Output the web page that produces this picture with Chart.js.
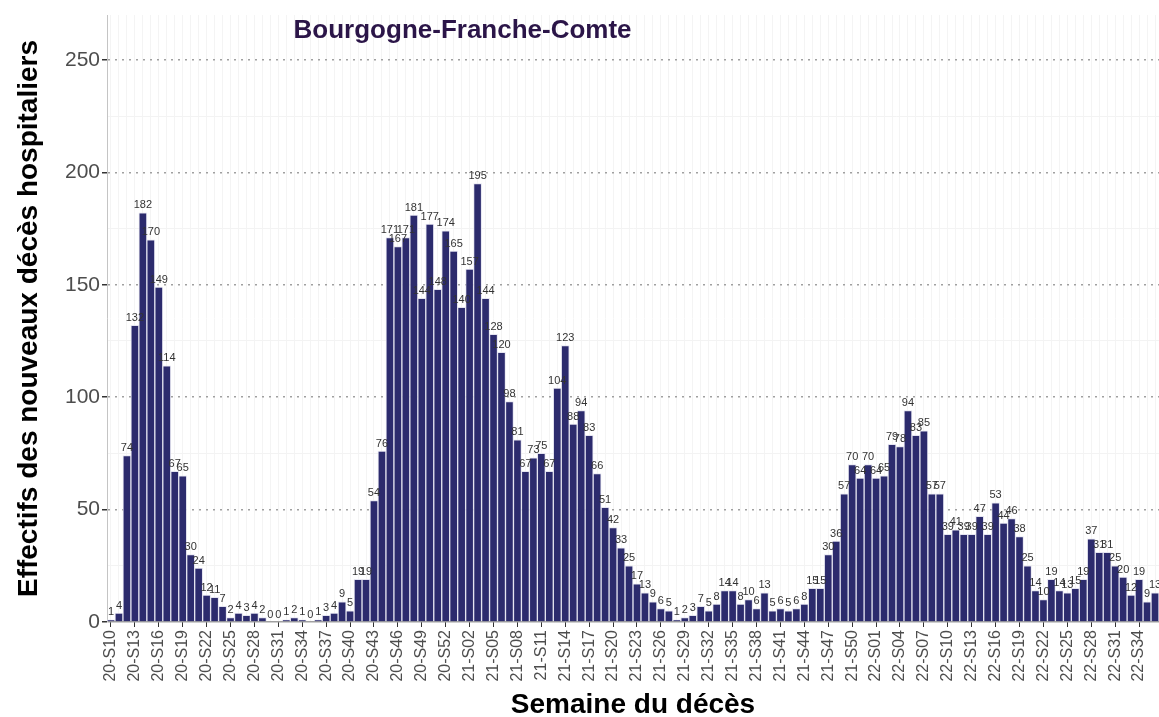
<!DOCTYPE html>
<html>
<head>
    <meta charset="UTF-8" />
    <title>Bourgogne-Franche-Comte</title>
    <script src="https://cdn.jsdelivr.net/npm/chart.js@4"></script>
    <style>
        html, body { margin: 0; padding: 0; background: #fff; }
        #wrap { width: 1159px; height: 717px; position: relative; }
    </style>
</head>
<body>
    <div id="wrap"><canvas id="chart"></canvas></div>

    <script>
        // weekly new hospital deaths, by ISO week
        const deaths2020 = [1, 4, 74, 132, 182, 170, 149, 114, 67, 65, 30, 24, 12, 11, 7, 2, 4, 3, 4, 2,
            0, 0, 1, 2, 1, 0, 1, 3, 4, 9, 5, 19, 19, 54, 76, 171, 167, 171, 181, 144, 177, 148, 174, 165];
        const deaths2021 = [140, 157, 195, 144, 128, 120, 98, 81, 67, 73, 75, 67, 104, 123, 88, 94, 83, 66, 51, 42,
            33, 25, 17, 13, 9, 6, 5, 1, 2, 3, 7, 5, 8, 14, 14, 8, 10, 6, 13, 5,
            6, 5, 6, 8, 15, 15, 30, 36, 57, 70, 64, 70];
        const deaths2022 = [64, 65, 79, 78, 94, 83, 85, 57, 57, 39, 41, 39, 39, 47, 39, 53, 44, 46, 38, 25,
            14, 10, 19, 14, 13, 15, 19, 37, 31, 31, 25, 20, 12, 19, 9, 13];

        const firstWeek2020 = 10;
        const yTicks = [0, 50, 100, 150, 200, 250];
        const yMax = 270;
        const regionName = 'Bourgogne-Franche-Comte';

        const weekLabels = [];
        function addWeeks(yy, from, count) {
            for (let i = 0; i < count; i++) {
                weekLabels.push(yy + '-S' + String(from + i).padStart(2, '0'));
            }
        }
        addWeeks('20', firstWeek2020, deaths2020.length);
        addWeeks('21', 1, deaths2021.length);
        addWeeks('22', 1, deaths2022.length);
        const deaths = deaths2020.concat(deaths2021, deaths2022);

        const FONT = "'Liberation Sans', Arial, sans-serif";

        const barLabels = {
            id: 'barLabels',
            afterDatasetsDraw(chart) {
                const ctx = chart.ctx;
                const meta = chart.getDatasetMeta(0);
                ctx.save();
                ctx.font = '11px ' + FONT;
                ctx.fillStyle = '#333';
                ctx.textAlign = 'center';
                ctx.textBaseline = 'bottom';
                meta.data.forEach((bar, i) => {
                    ctx.fillText(String(deaths[i]), bar.x, bar.y - 2);
                });
                ctx.restore();
            }
        };

        const regionTitle = {
            id: 'regionTitle',
            afterDraw(chart) {
                const ctx = chart.ctx;
                const area = chart.chartArea;
                ctx.save();
                ctx.font = 'bold 26px ' + FONT;
                ctx.fillStyle = '#2b1548';
                ctx.textAlign = 'center';
                ctx.textBaseline = 'middle';
                ctx.fillText(regionName, area.left + (area.right - area.left) * 0.338, area.top + 16);
                ctx.restore();
            }
        };

        new Chart('chart', {
            type: 'bar',
            data: {
                labels: weekLabels,
                datasets: [{
                    data: deaths,
                    backgroundColor: '#2c2b6d',
                    borderColor: 'rgba(225,225,238,0.9)',
                    borderWidth: 1,
                    barPercentage: 1,
                    categoryPercentage: 1
                }]
            },
            plugins: [barLabels, regionTitle],
            options: {
                responsive: true,
                maintainAspectRatio: false,
                animation: false,
                layout: { padding: { top: 15, right: 0, bottom: 0, left: 0 } },
                plugins: {
                    legend: { display: false },
                    tooltip: { enabled: false }
                },
                scales: {
                    x: {
                        offset: true,
                        grid: {
                            offset: false,
                            color: '#f4f4f4',
                            lineWidth: 1,
                            tickLength: 5,
                            tickColor: c => (c.index % 3 === 0 ? '#333' : 'rgba(0,0,0,0)')
                        },
                        border: { display: false },
                        ticks: {
                            autoSkip: false,
                            minRotation: 90,
                            maxRotation: 90,
                            padding: 3,
                            color: '#4d4d4d',
                            font: { family: FONT, size: 16 },
                            callback: (v, i) => (i % 3 === 0 ? weekLabels[i] : '')
                        },
                        title: {
                            display: true,
                            text: 'Semaine du décès',
                            color: '#000',
                            font: { family: FONT, size: 28, weight: 'bold' },
                            padding: { top: 0, bottom: -5 }
                        },
                        afterFit: s => {
                            s.height = 95;
                            s.paddingLeft = 0;
                            s.paddingRight = 0;
                        }
                    },
                    y: {
                        min: 0,
                        max: yMax,
                        grid: {
                            color: c => {
                                const v = c.tick ? c.tick.value : -1;
                                if (yTicks.includes(v)) return '#a0a0a0';
                                return v % 25 === 0 ? '#f3f3f3' : 'rgba(0,0,0,0)';
                            },
                            lineWidth: c => (c.tick && yTicks.includes(c.tick.value) ? 1.5 : 1),
                            tickLength: 5,
                            tickColor: c => (c.tick && yTicks.includes(c.tick.value) ? '#333' : 'rgba(0,0,0,0)')
                        },
                        border: {
                            display: true,
                            color: '#c4c4c4',
                            width: 1,
                            dash: c => (c.tick && yTicks.includes(c.tick.value) && c.tick.value > 0 ? [2, 5] : [])
                        },
                        ticks: {
                            stepSize: 25,
                            color: '#4d4d4d',
                            padding: 2,
                            font: { family: FONT, size: 21 },
                            callback: v => (yTicks.includes(v) ? String(v) : '')
                        },
                        title: {
                            display: true,
                            text: 'Effectifs des nouveaux décès hospitaliers',
                            color: '#000',
                            font: { family: FONT, size: 28, weight: 'bold' },
                            padding: { top: 12, bottom: 0 }
                        },
                        afterFit: s => {
                            s.width = 107;
                            s.paddingTop = 0;
                            s.paddingBottom = 0;
                        }
                    }
                }
            }
        });
    </script>
</body>
</html>
